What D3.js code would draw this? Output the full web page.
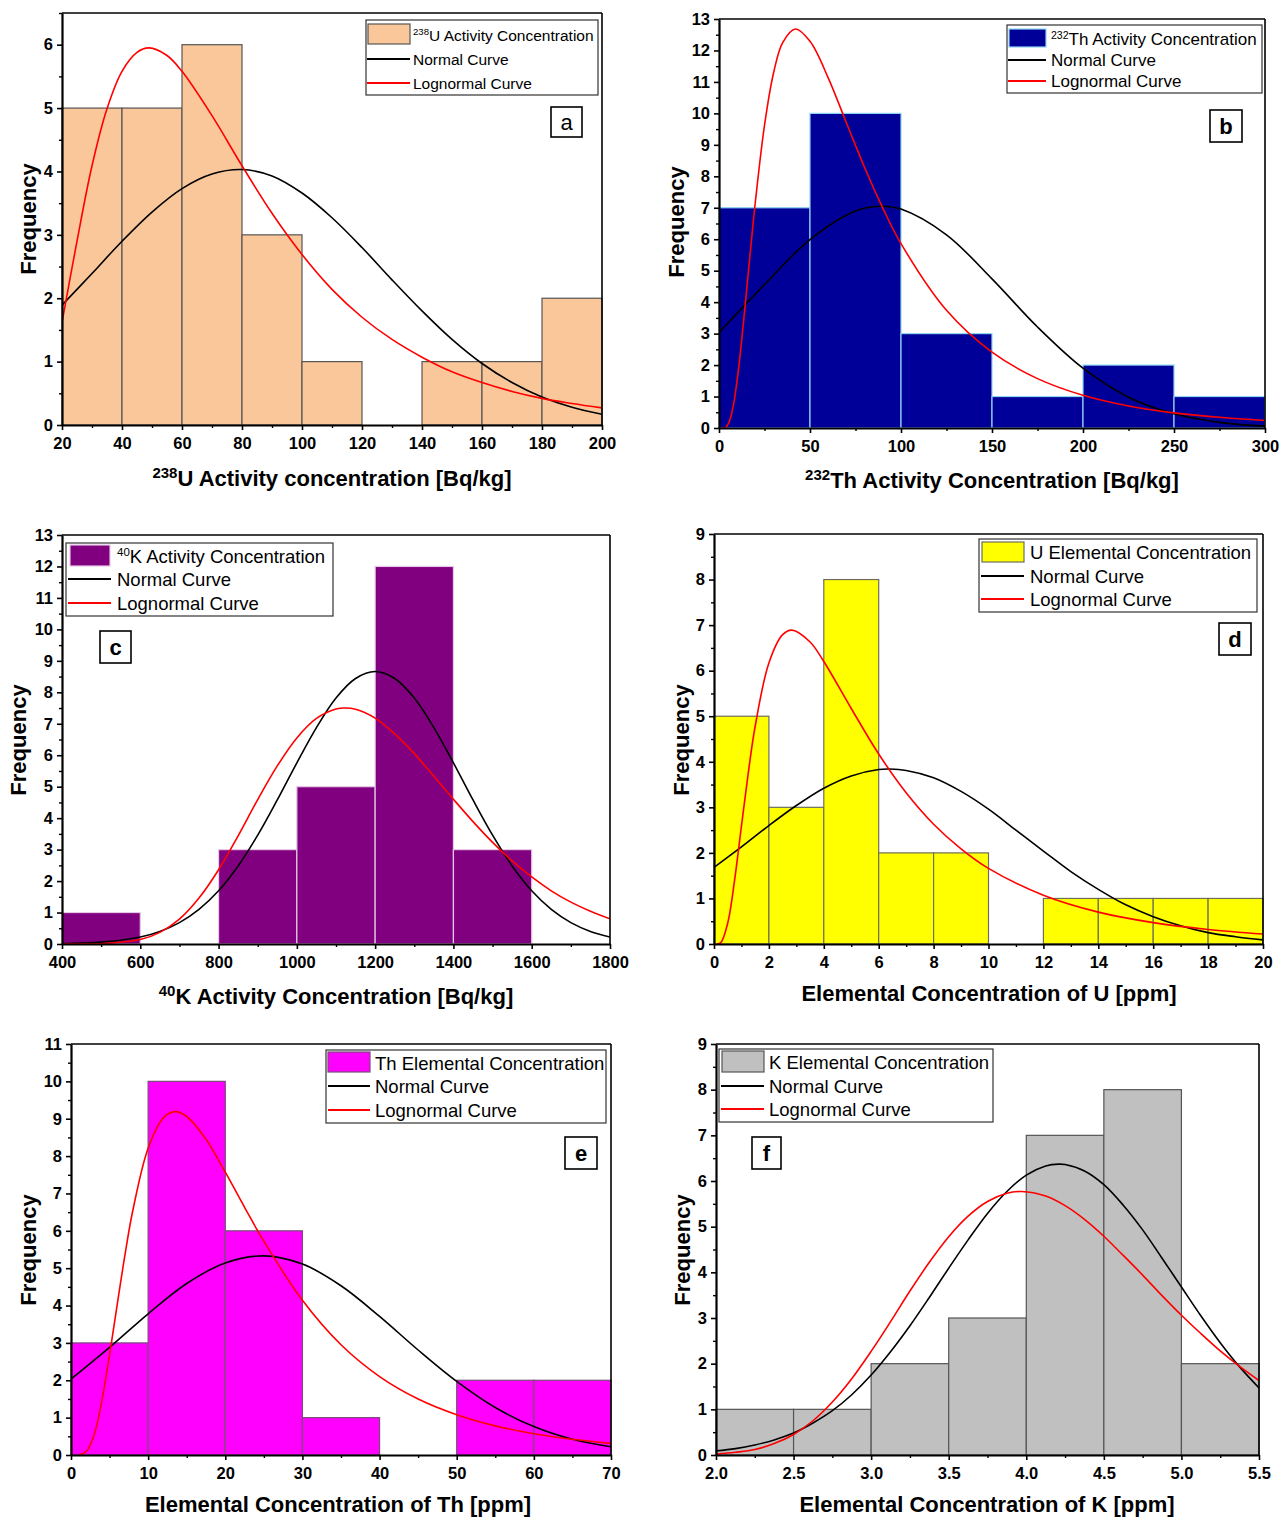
<!DOCTYPE html>
<html><head><meta charset="utf-8">
<script src="https://cdn.jsdelivr.net/npm/d3@7"></script>
<style>body{margin:0;background:#fff} svg{display:block} text{font-family:"Liberation Sans",Arial,Helvetica,sans-serif}</style>
</head><body><svg id="chart" width="1280" height="1519"></svg>
<script>
// ---------------- DATA ----------------
// (a) 238U activity concentration
const aEdges=[20,40,60,80,100,120,140,160,180,200];
const aCounts=[5,5,6,3,1,0,1,1,2];
const aNormX=[20,30,40,50,60,70,80,90,100,110,120,130,140,150,160,170,180,190,200];
const aNormY=[1.89,2.39,2.90,3.36,3.73,3.96,4.03,3.93,3.66,3.27,2.80,2.29,1.80,1.35,0.97,0.67,0.44,0.28,0.17];
const aLogX=[20,25,30,35,40,45,49,55,60,70,80,90,100,110,120,130,140,150,160,170,180,190,200];
const aLogY=[1.62,2.90,4.09,4.99,5.58,5.88,5.95,5.83,5.58,4.88,4.09,3.34,2.69,2.14,1.70,1.35,1.07,0.84,0.67,0.53,0.42,0.34,0.27];
const aXTicks=[20,40,60,80,100,120,140,160,180,200];
const aYTicks=[0,1,2,3,4,5,6];

// (b) 232Th activity concentration
const bEdges=[0,50,100,150,200,250,300];
const bCounts=[7,10,3,1,2,1];
const bNormX=[0,25,50,75,89,100,125,150,175,200,225,250,275,300];
const bNormY=[3.03,4.56,5.99,6.90,7.05,6.96,6.14,4.74,3.21,1.90,0.98,0.45,0.18,0.06];
const bLogX=[2,4,6,8,10,12,14,16,18,20,25,30,35,42,50,60,70,80,90,100,125,150,175,200,225,250,275,300];
const bLogY=[0,0.04,0.26,0.76,1.53,2.54,3.68,4.88,6.07,7.20,9.62,11.29,12.25,12.68,12.29,11.13,9.70,8.28,6.99,5.86,3.74,2.41,1.57,1.04,0.70,0.48,0.34,0.24];
const bXTicks=[0,50,100,150,200,250,300];
const bYTicks=[0,1,2,3,4,5,6,7,8,9,10,11,12,13];

// (c) 40K activity concentration
const cEdges=[400,600,800,1000,1200,1400,1600];
const cCounts=[1,0,3,5,12,3];
const cNormX=[400,450,500,550,600,650,700,750,800,850,900,950,1000,1050,1100,1150,1200,1250,1300,1350,1400,1450,1500,1550,1600,1650,1700,1750,1800];
const cNormY=[0.01,0.03,0.06,0.12,0.22,0.40,0.68,1.10,1.69,2.48,3.46,4.58,5.76,6.88,7.82,8.44,8.66,8.44,7.82,6.88,5.76,4.58,3.46,2.48,1.69,1.10,0.68,0.40,0.22];
const cLogX=[400,500,600,650,700,750,800,850,900,950,1000,1050,1100,1123,1150,1200,1250,1300,1350,1400,1450,1500,1550,1600,1650,1700,1750,1800];
const cLogY=[0,0.01,0.14,0.37,0.79,1.46,2.36,3.44,4.59,5.66,6.55,7.17,7.47,7.50,7.46,7.18,6.68,6.05,5.33,4.60,3.89,3.23,2.64,2.13,1.69,1.33,1.04,0.80];
const cXTicks=[400,600,800,1000,1200,1400,1600,1800];
const cYTicks=[0,1,2,3,4,5,6,7,8,9,10,11,12,13];

// (d) elemental U
const dEdges=[0,2,4,6,8,10,12,14,16,18,20];
const dCounts=[5,3,8,2,2,0,1,1,1,1];
const dNormX=[0,1,2,3,4,5,6,6.4,7,8,9,10,11,12,13,14,15,16,17,18,19,20];
const dNormY=[1.68,2.13,2.60,3.04,3.42,3.69,3.83,3.84,3.81,3.65,3.35,2.96,2.50,2.04,1.59,1.20,0.86,0.60,0.40,0.25,0.16,0.09];
const dLogX=[0.1,0.25,0.5,0.75,1,1.25,1.5,2,2.5,2.84,3.5,4,5,6,7,8,9,10,12,14,16,18,20];
const dLogY=[0,0.03,0.46,1.40,2.59,3.76,4.78,6.17,6.79,6.89,6.63,6.20,5.17,4.17,3.32,2.63,2.09,1.66,1.07,0.70,0.47,0.32,0.22];
const dXTicks=[0,2,4,6,8,10,12,14,16,18,20];
const dYTicks=[0,1,2,3,4,5,6,7,8,9];

// (e) elemental Th
const eEdges=[0,10,20,30,40,50,60,70];
const eCounts=[3,10,6,1,0,2,2];
const eNormX=[0,5,10,15,20,25,30,35,40,45,50,55,60,65,70];
const eNormY=[2.03,2.88,3.78,4.59,5.14,5.33,5.11,4.53,3.71,2.81,1.97,1.27,0.76,0.42,0.22];
const eLogX=[1,2,3,4,5,6,7,8,10,12,13.5,15,17.5,20,22.5,25,30,35,40,45,50,55,60,65,70];
const eLogY=[0,0.10,0.54,1.45,2.68,4.04,5.36,6.53,8.21,9.03,9.19,9.06,8.45,7.57,6.63,5.72,4.14,2.95,2.10,1.50,1.08,0.78,0.57,0.42,0.31];
const eXTicks=[0,10,20,30,40,50,60,70];
const eYTicks=[0,1,2,3,4,5,6,7,8,9,10,11];

// (f) elemental K
const fEdges=[2.0,2.5,3.0,3.5,4.0,4.5,5.0,5.5];
const fCounts=[1,1,2,3,7,8,2];
const fNormX=[2.0,2.125,2.25,2.375,2.5,2.625,2.75,2.875,3.0,3.125,3.25,3.375,3.5,3.625,3.75,3.875,4.0,4.125,4.21,4.25,4.375,4.5,4.625,4.75,4.875,5.0,5.125,5.25,5.375,5.5];
const fNormY=[0.09,0.14,0.22,0.33,0.48,0.70,0.97,1.32,1.75,2.26,2.83,3.45,4.09,4.71,5.29,5.77,6.13,6.33,6.37,6.36,6.22,5.92,5.47,4.93,4.31,3.68,3.05,2.46,1.93,1.47];
const fLogX=[2.0,2.125,2.25,2.375,2.5,2.625,2.75,2.875,3.0,3.125,3.25,3.375,3.5,3.625,3.75,3.875,3.97,4.125,4.25,4.375,4.5,4.625,4.75,4.875,5.0,5.125,5.25,5.375,5.5];
const fLogY=[0.02,0.06,0.12,0.25,0.45,0.75,1.16,1.67,2.27,2.92,3.59,4.22,4.78,5.23,5.55,5.73,5.77,5.67,5.46,5.16,4.79,4.37,3.94,3.49,3.06,2.66,2.28,1.94,1.63];
const fXTicks=[2.0,2.5,3.0,3.5,4.0,4.5,5.0,5.5];
const fYTicks=[0,1,2,3,4,5,6,7,8,9];

// legend labels / titles
const legendNames=[
  {sup:"238",main:"U Activity Concentration"},
  {sup:"232",main:"Th Activity Concentration"},
  {sup:"40",main:"K Activity Concentration"},
  {sup:"",main:"U Elemental Concentration"},
  {sup:"",main:"Th Elemental Concentration"},
  {sup:"",main:"K Elemental Concentration"}];
const curveNames=["Normal Curve","Lognormal Curve"];
const xTitles=[
  {sup:"238",main:"U Activity concentration [Bq/kg]"},
  {sup:"232",main:"Th Activity Concentration [Bq/kg]"},
  {sup:"40",main:"K Activity Concentration [Bq/kg]"},
  {sup:"",main:"Elemental Concentration of U [ppm]"},
  {sup:"",main:"Elemental Concentration of Th [ppm]"},
  {sup:"",main:"Elemental Concentration of K [ppm]"}];
const panelLetters=["a","b","c","d","e","f"];

// ---------------- LAYOUT / STYLE ----------------
const panels=[
 {edges:aEdges,counts:aCounts,nx:aNormX,ny:aNormY,lx:aLogX,ly:aLogY,xt:aXTicks,yt:aYTicks,
  L:62,R:602,T:13,B:425,xd:[20,200],yd:[0,6.5],xminor:10,fmt:d3.format("d"),
  fill:"#F9C79A",stroke:"#555",
  leg:{x:366,y:20,w:232,h:75,fs:15.5,sw:[368,24,42,20],tx:413,rows:[35,59,83],lx:[367,410]},
  box:{x:551,y:107,w:31,h:30,bold:false},
  title:{x:332,y:486},freq:{x:28,y:219}},
 {edges:bEdges,counts:bCounts,nx:bNormX,ny:bNormY,lx:bLogX,ly:bLogY,xt:bXTicks,yt:bYTicks,
  L:719,R:1265,T:19,B:428,xd:[0,300],yd:[0,13],xminor:25,fmt:d3.format("d"),
  fill:"#000099",stroke:"#8FD3F0",
  leg:{x:1007,y:25,w:255,h:68,fs:17,sw:[1009,29,37,18],tx:1051,rows:[39,60,81],lx:[1008,1046]},
  box:{x:1210,y:110,w:32,h:32,bold:true},
  title:{x:992,y:488},freq:{x:676,y:222}},
 {edges:cEdges,counts:cCounts,nx:cNormX,ny:cNormY,lx:cLogX,ly:cLogY,xt:cXTicks,yt:cYTicks,
  L:62,R:610,T:535,B:944,xd:[400,1800],yd:[0,13],xminor:100,fmt:d3.format("d"),
  fill:"#800080",stroke:"#E6C8E6",
  leg:{x:66,y:543,w:267,h:73,fs:18.5,sw:[70,545,40,21],tx:117,rows:[556,579,603],lx:[68,111]},
  box:{x:100,y:631,w:31,h:32,bold:true},
  title:{x:336,y:1004},freq:{x:18,y:740}},
 {edges:dEdges,counts:dCounts,nx:dNormX,ny:dNormY,lx:dLogX,ly:dLogY,xt:dXTicks,yt:dYTicks,
  L:714,R:1263,T:534,B:944,xd:[0,20],yd:[0,9],xminor:1,fmt:d3.format("d"),
  fill:"#FFFF00",stroke:"#6E6E5A",
  leg:{x:979,y:539,w:278,h:73,fs:18.5,sw:[982,542,42,20],tx:1030,rows:[552,576,599],lx:[981,1024]},
  box:{x:1219,y:623,w:32,h:32,bold:true},
  title:{x:989,y:1001},freq:{x:681,y:740}},
 {edges:eEdges,counts:eCounts,nx:eNormX,ny:eNormY,lx:eLogX,ly:eLogY,xt:eXTicks,yt:eYTicks,
  L:71,R:611,T:1044,B:1455,xd:[0,70],yd:[0,11],xminor:5,fmt:d3.format("d"),
  fill:"#FF00FF",stroke:"#7A4A7A",
  leg:{x:326,y:1050,w:280,h:73,fs:18.5,sw:[328,1052,42,20],tx:375,rows:[1063,1086,1110],lx:[328,370]},
  box:{x:565,y:1137,w:32,h:32,bold:true},
  title:{x:338,y:1512},freq:{x:28,y:1250}},
 {edges:fEdges,counts:fCounts,nx:fNormX,ny:fNormY,lx:fLogX,ly:fLogY,xt:fXTicks,yt:fYTicks,
  L:716,R:1259,T:1044,B:1455,xd:[2,5.5],yd:[0,9],xminor:0.25,fmt:d3.format(".1f"),
  fill:"#C0C0C0",stroke:"#555",
  leg:{x:719,y:1049,w:274,h:73,fs:18.5,sw:[722,1051,42,21],tx:769,rows:[1062,1086,1109],lx:[721,764]},
  box:{x:752,y:1137,w:29,h:32,bold:true},
  title:{x:987,y:1512},freq:{x:682,y:1250}}
];

const svg=d3.select("#chart");

panels.forEach((p,i)=>{
  const g=svg.append("g");
  const x=d3.scaleLinear().domain(p.xd).range([p.L,p.R]);
  const y=d3.scaleLinear().domain(p.yd).range([p.B,p.T]);
  const cid="clip"+i;
  svg.append("clipPath").attr("id",cid).append("rect")
    .attr("x",p.L).attr("y",p.T).attr("width",p.R-p.L).attr("height",p.B-p.T);

  // bars
  const bins=p.counts.map((c,k)=>({x0:p.edges[k],x1:p.edges[k+1],c})).filter(d=>d.c>0);
  g.append("g").selectAll("rect").data(bins).join("rect")
    .attr("x",d=>x(d.x0)).attr("width",d=>x(d.x1)-x(d.x0))
    .attr("y",d=>y(d.c)).attr("height",d=>y(0)-y(d.c))
    .attr("fill",p.fill).attr("stroke",p.stroke).attr("stroke-width",1.2);

  // curves
  const line=d3.line().x(d=>x(d[0])).y(d=>y(d[1])).curve(d3.curveCatmullRom.alpha(0.5));
  const cg=g.append("g").attr("clip-path",`url(#${cid})`);
  cg.append("path").attr("d",line(p.nx.map((v,k)=>[v,p.ny[k]])))
    .attr("fill","none").attr("stroke","#000").attr("stroke-width",1.6);
  cg.append("path").attr("d",line(p.lx.map((v,k)=>[v,p.ly[k]])))
    .attr("fill","none").attr("stroke","#FF0000").attr("stroke-width",1.6);

  // frame top/right
  g.append("line").attr("x1",p.L).attr("x2",p.R).attr("y1",p.T).attr("y2",p.T).attr("stroke","#000").attr("stroke-width",1.6);
  g.append("line").attr("x1",p.R).attr("x2",p.R).attr("y1",p.T).attr("y2",p.B).attr("stroke","#000").attr("stroke-width",1.6);

  // minor ticks
  const xMinor=d3.range(p.xd[0],p.xd[1]+1e-9,p.xminor).filter(v=>!p.xt.some(t=>Math.abs(t-v)<1e-9));
  const yMinor=d3.range(p.yd[0]+0.5,p.yd[1]+1e-9,1);
  g.append("g").attr("transform",`translate(0,${p.B})`)
    .call(d3.axisBottom(x).tickValues(xMinor).tickSize(3).tickFormat(""))
    .call(s=>s.select(".domain").remove()).selectAll("line").attr("stroke-width",1.4);
  g.append("g").attr("transform",`translate(${p.L},0)`)
    .call(d3.axisLeft(y).tickValues(yMinor).tickSize(3).tickFormat(""))
    .call(s=>s.select(".domain").remove()).selectAll("line").attr("stroke-width",1.4);

  // major axes
  const xa=g.append("g").attr("transform",`translate(0,${p.B})`)
    .call(d3.axisBottom(x).tickValues(p.xt).tickSize(5).tickSizeOuter(0).tickPadding(7).tickFormat(p.fmt));
  const ya=g.append("g").attr("transform",`translate(${p.L},0)`)
    .call(d3.axisLeft(y).tickValues(p.yt).tickSize(5).tickSizeOuter(0).tickPadding(4).tickFormat(d3.format("d")));
  [xa,ya].forEach(a=>{
    a.select(".domain").attr("stroke-width",2.2);
    a.selectAll(".tick line").attr("stroke-width",1.6);
    a.selectAll("text").attr("font-size",16.5).attr("font-weight","bold").attr("fill","#000")
      .style("font-family",'"Liberation Sans",Arial,sans-serif');
  });

  // x title
  const t=g.append("text").attr("x",p.title.x).attr("y",p.title.y).attr("text-anchor","middle")
    .attr("font-size",22).attr("font-weight","bold");
  if(xTitles[i].sup){
    t.append("tspan").attr("font-size",15).attr("dy",-8).text(xTitles[i].sup);
    t.append("tspan").attr("dy",8).text(xTitles[i].main);
  } else t.text(xTitles[i].main);

  // y title
  g.append("text").attr("transform",`translate(${p.freq.x},${p.freq.y}) rotate(-90)`)
    .attr("text-anchor","middle").attr("dy","0.36em")
    .attr("font-size",22).attr("font-weight","bold").text("Frequency");

  // legend
  const lg=p.leg;
  g.append("rect").attr("x",lg.x).attr("y",lg.y).attr("width",lg.w).attr("height",lg.h)
    .attr("fill","#fff").attr("stroke","#333").attr("stroke-width",1.2);
  g.append("rect").attr("x",lg.sw[0]).attr("y",lg.sw[1]).attr("width",lg.sw[2]).attr("height",lg.sw[3])
    .attr("fill",p.fill).attr("stroke",p.stroke).attr("stroke-width",1.2);
  const lt=g.append("text").attr("x",lg.tx).attr("y",lg.rows[0]+lg.fs*0.36).attr("font-size",lg.fs);
  if(legendNames[i].sup){
    lt.append("tspan").attr("font-size",lg.fs*0.62).attr("dy",-lg.fs*0.38).text(legendNames[i].sup);
    lt.append("tspan").attr("dy",lg.fs*0.38).text(legendNames[i].main);
  } else lt.text(legendNames[i].main);
  ["#000","#FF0000"].forEach((col,k)=>{
    g.append("line").attr("x1",lg.lx[0]).attr("x2",lg.lx[1]).attr("y1",lg.rows[k+1]).attr("y2",lg.rows[k+1])
      .attr("stroke",col).attr("stroke-width",1.8);
    g.append("text").attr("x",lg.tx).attr("y",lg.rows[k+1]+lg.fs*0.36).attr("font-size",lg.fs).text(curveNames[k]);
  });

  // letter box
  const b=p.box;
  g.append("rect").attr("x",b.x).attr("y",b.y).attr("width",b.w).attr("height",b.h)
    .attr("fill","#fff").attr("stroke","#000").attr("stroke-width",1.6);
  g.append("text").attr("x",b.x+b.w/2).attr("y",b.y+b.h/2).attr("dy","0.36em").attr("text-anchor","middle")
    .attr("font-size",22).attr("font-weight",b.bold?"bold":"normal").text(panelLetters[i]);
});
</script></body></html>
